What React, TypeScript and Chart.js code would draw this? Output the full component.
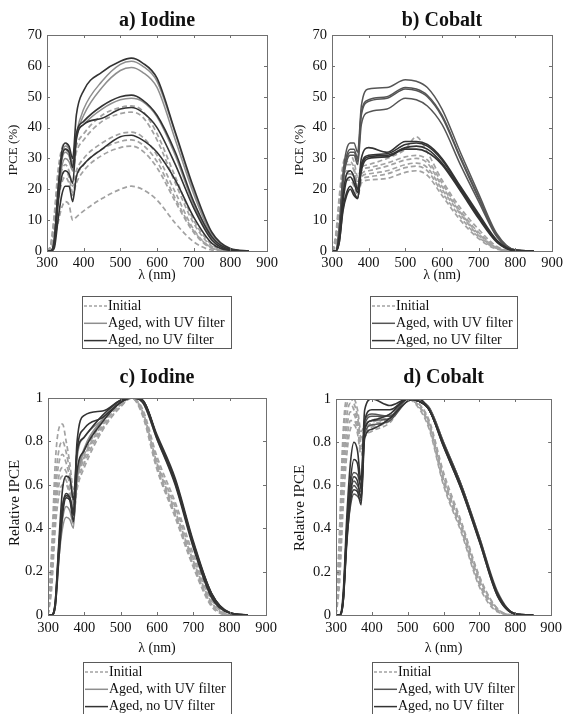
import React, { useEffect, useRef } from "react";
import { Chart, registerables } from "chart.js";
Chart.register(...registerables);

// Wavelength grid (nm)
const WL = [300, 310, 320, 330, 340, 350, 360, 370, 380, 400, 450, 500, 530, 560, 600, 650, 700, 750, 800, 850];
const X_TICKS = [300, 400, 500, 600, 700, 800, 900];

// ---- a) Iodine, IPCE (%) ----
const A_INITIAL = [
  [0, 2, 12, 26, 33, 35, 33, 28, 34, 38, 44, 46.5, 47, 45.5, 38, 24, 10, 2, 0, 0],
  [0, 2, 11, 24, 31, 33, 31, 26, 32, 36, 42, 44.5, 45, 43.5, 36, 22, 9, 1.5, 0, 0],
  [0, 1, 9, 20, 26, 28, 26, 21, 26, 30, 35, 38, 38.5, 37, 31, 19, 7, 1, 0, 0],
  [0, 1, 8, 18, 24, 26, 24, 19, 24, 28, 33, 35.5, 36, 34.5, 29, 17, 6.5, 1, 0, 0],
  [0, 1, 7, 16, 22, 24, 22, 18, 22, 26, 31, 33.5, 34, 32.5, 27, 16, 6, 0.8, 0, 0],
  [0, 0, 4, 9, 14, 16, 15, 10, 11, 13, 17, 20, 21, 20, 16.5, 9, 3, 0.3, 0, 0],
];
const A_UV = [
  [0, 0, 3, 18, 30, 34, 33, 29, 38, 46, 55, 60.5, 61.5, 60, 55, 38, 19.5, 5.5, 0.6, 0],
  [0, 0, 3, 17, 29, 32, 31, 28, 37, 44, 53, 58.5, 59.5, 58, 53, 36, 18.5, 5, 0.5, 0],
  [0, 0, 2, 16, 27, 30, 29, 26, 37, 41, 46, 49, 49.5, 48.5, 43.5, 31, 15, 4, 0.4, 0],
];
const A_NOUV = [
  [0, 0, 4, 20, 32, 35, 34, 30, 44, 52, 58, 61.5, 62.5, 61, 56, 38.5, 20.5, 6, 0.8, 0],
  [0, 0, 3, 18, 30, 33, 32, 27, 38, 42, 47, 50, 50.5, 49, 44, 32, 16, 4.5, 0.5, 0],
  [0, 0, 2, 15, 24, 26, 25, 22, 36, 41, 43, 46, 46.5, 45, 40, 28, 14, 3.5, 0.3, 0],
  [0, 0, 1, 10, 18, 21, 21, 16, 24, 28, 33, 37, 37.5, 36, 32, 23, 11, 2.5, 0.2, 0],
];

// ---- b) Cobalt, IPCE (%) ----
const B_INITIAL = [
  [0, 5, 18, 28, 31, 31, 29, 24, 27, 28, 30, 33, 37, 32, 23, 14, 7, 1.5, 0, 0],
  [0, 4, 16, 26, 29, 29, 27, 22, 26, 27, 28.5, 30.5, 31, 29.5, 22, 13, 6, 1.2, 0, 0],
  [0, 4, 15, 25, 28, 28, 26, 21, 25, 26, 27.5, 29.5, 30, 28.5, 21, 12.5, 5.5, 1, 0, 0],
  [0, 3, 14, 23, 26, 26, 24, 20, 24, 25, 26, 28, 28.5, 27, 20, 12, 5, 1, 0, 0],
  [0, 3, 13, 22, 25, 25, 23, 19, 23, 24, 25, 27, 27.5, 26, 19, 11, 4.5, 0.8, 0, 0],
  [0, 2, 12, 20, 23, 23, 21, 18, 22, 23, 23.5, 25.5, 26, 24.5, 18, 10, 4, 0.6, 0, 0],
];
const B_UV = [
  [0, 0, 8, 25, 33, 35, 35, 32, 47, 52.5, 53, 55.5, 55, 53, 46, 32, 18.5, 5.5, 0.3, 0],
  [0, 0, 7, 24, 31, 33, 33, 30, 45, 49, 50, 53, 52.5, 50.5, 44, 30.5, 17.5, 5, 0.3, 0],
  [0, 0, 7, 23, 30, 32, 32, 29, 44, 48.5, 49.5, 52.5, 52, 50, 43.5, 30, 17, 4.8, 0.3, 0],
  [0, 0, 6, 22, 29, 31, 31, 28, 41, 45, 46, 49.5, 49, 47, 41, 28, 16, 4.5, 0.2, 0],
];
const B_NOUV = [
  [0, 0, 5, 18, 25, 26, 24, 20, 30, 33.5, 32, 35.5, 35.5, 34.5, 30, 21, 12, 3.5, 0.2, 0],
  [0, 0, 4, 16, 23, 24, 22, 19, 28, 31, 31.5, 34.5, 35, 34, 29.5, 20.5, 11.5, 3.2, 0.2, 0],
  [0, 0, 3, 14, 19, 21, 19, 17, 27, 30.5, 31, 33.5, 34, 33, 28.5, 20, 11, 3, 0.1, 0],
  [0, 0, 3, 13, 18, 20, 18, 17, 26, 30, 30.5, 33, 33, 32, 28, 19.5, 10.5, 2.8, 0.1, 0],
];

// ---- c) Iodine, relative IPCE ----
const C_INITIAL = [
  [0, 0.3, 0.7, 0.86, 0.88, 0.8, 0.7, 0.58, 0.66, 0.76, 0.9, 0.98, 1, 0.95, 0.73, 0.52, 0.28, 0.08, 0, 0],
  [0, 0.25, 0.6, 0.76, 0.8, 0.75, 0.66, 0.55, 0.64, 0.74, 0.89, 0.98, 1, 0.94, 0.71, 0.5, 0.26, 0.07, 0, 0],
  [0, 0.2, 0.55, 0.7, 0.74, 0.7, 0.63, 0.52, 0.63, 0.73, 0.88, 0.97, 1, 0.94, 0.7, 0.48, 0.25, 0.06, 0, 0],
  [0, 0.18, 0.5, 0.64, 0.68, 0.66, 0.6, 0.5, 0.62, 0.72, 0.87, 0.97, 1, 0.93, 0.69, 0.47, 0.24, 0.05, 0, 0],
  [0, 0.15, 0.45, 0.6, 0.64, 0.62, 0.57, 0.48, 0.6, 0.7, 0.86, 0.96, 1, 0.93, 0.68, 0.46, 0.23, 0.05, 0, 0],
  [0, 0.12, 0.4, 0.55, 0.6, 0.6, 0.55, 0.46, 0.58, 0.68, 0.85, 0.96, 1, 0.92, 0.67, 0.45, 0.22, 0.04, 0, 0],
];
const C_UV = [
  [0, 0, 0.05, 0.3, 0.48, 0.54, 0.53, 0.46, 0.64, 0.77, 0.9, 0.99, 1, 0.99, 0.82, 0.62, 0.33, 0.1, 0.01, 0],
  [0, 0, 0.04, 0.28, 0.44, 0.5, 0.48, 0.42, 0.62, 0.76, 0.9, 0.99, 1, 0.99, 0.82, 0.62, 0.33, 0.09, 0.01, 0],
  [0, 0, 0.04, 0.26, 0.4, 0.45, 0.44, 0.4, 0.72, 0.82, 0.9, 0.98, 1, 0.98, 0.81, 0.61, 0.32, 0.09, 0.01, 0],
];
const C_NOUV = [
  [0, 0, 0.06, 0.32, 0.5, 0.56, 0.54, 0.48, 0.8, 0.92, 0.94, 0.99, 1, 0.99, 0.83, 0.63, 0.34, 0.1, 0.012, 0],
  [0, 0, 0.06, 0.34, 0.58, 0.64, 0.63, 0.53, 0.75, 0.82, 0.92, 0.99, 1, 0.99, 0.82, 0.62, 0.33, 0.1, 0.01, 0],
  [0, 0, 0.05, 0.3, 0.5, 0.55, 0.54, 0.46, 0.76, 0.86, 0.91, 0.98, 1, 0.99, 0.82, 0.61, 0.32, 0.09, 0.01, 0],
  [0, 0, 0.04, 0.26, 0.46, 0.54, 0.53, 0.43, 0.66, 0.76, 0.89, 0.98, 1, 0.98, 0.81, 0.6, 0.31, 0.08, 0.008, 0],
];

// ---- d) Cobalt, relative IPCE ----
const D_INITIAL = [
  [0, 0.4, 0.85, 1, 1, 1, 0.95, 0.85, 0.88, 0.9, 0.93, 1, 0.98, 0.9, 0.66, 0.43, 0.18, 0.03, 0, 0],
  [0, 0.35, 0.8, 0.97, 1, 0.98, 0.92, 0.82, 0.86, 0.89, 0.92, 1, 0.98, 0.89, 0.64, 0.42, 0.17, 0.03, 0, 0],
  [0, 0.3, 0.72, 0.92, 0.98, 0.95, 0.9, 0.8, 0.85, 0.88, 0.91, 1, 0.97, 0.88, 0.63, 0.41, 0.16, 0.025, 0, 0],
  [0, 0.25, 0.65, 0.86, 0.94, 0.93, 0.88, 0.78, 0.84, 0.87, 0.9, 1, 0.97, 0.88, 0.62, 0.4, 0.15, 0.02, 0, 0],
  [0, 0.2, 0.58, 0.8, 0.9, 0.9, 0.86, 0.76, 0.83, 0.86, 0.9, 1, 0.97, 0.87, 0.61, 0.39, 0.14, 0.02, 0, 0],
  [0, 0.15, 0.5, 0.74, 0.86, 0.88, 0.84, 0.74, 0.82, 0.85, 0.89, 1, 0.96, 0.86, 0.6, 0.38, 0.13, 0.015, 0, 0],
];
const D_UV = [
  [0, 0, 0.08, 0.4, 0.6, 0.66, 0.65, 0.6, 0.9, 0.93, 0.92, 1, 0.99, 0.96, 0.8, 0.6, 0.36, 0.11, 0.006, 0],
  [0, 0, 0.07, 0.38, 0.56, 0.62, 0.6, 0.57, 0.88, 0.92, 0.92, 1, 0.99, 0.96, 0.8, 0.6, 0.36, 0.1, 0.006, 0],
  [0, 0, 0.06, 0.35, 0.54, 0.6, 0.58, 0.55, 0.86, 0.9, 0.91, 1, 0.99, 0.95, 0.79, 0.6, 0.35, 0.1, 0.006, 0],
  [0, 0, 0.06, 0.34, 0.5, 0.56, 0.55, 0.53, 0.84, 0.88, 0.9, 0.99, 1, 0.95, 0.79, 0.59, 0.35, 0.1, 0.006, 0],
];
const D_NOUV = [
  [0, 0, 0.1, 0.45, 0.7, 0.8, 0.76, 0.62, 0.95, 1, 0.97, 1, 0.99, 0.95, 0.79, 0.59, 0.35, 0.1, 0.005, 0],
  [0, 0, 0.08, 0.4, 0.62, 0.72, 0.7, 0.58, 0.9, 0.95, 0.95, 1, 0.99, 0.95, 0.79, 0.59, 0.35, 0.1, 0.005, 0],
  [0, 0, 0.07, 0.36, 0.56, 0.64, 0.62, 0.54, 0.86, 0.9, 0.93, 1, 0.99, 0.95, 0.78, 0.58, 0.34, 0.09, 0.005, 0],
  [0, 0, 0.06, 0.33, 0.52, 0.58, 0.57, 0.51, 0.82, 0.86, 0.91, 0.99, 1, 0.95, 0.78, 0.58, 0.34, 0.09, 0.005, 0],
];

const LEGEND_LABELS = ["Initial", "Aged, with UV filter", "Aged, no UV filter"];
const SERIF = '"Liberation Serif", "Times New Roman", serif';
const INIT_COLOR = "#a2a2a2";
const NOUV_COLOR = "#333333";
const TEXT_COLOR = "#111111";

type PanelCfg = {
  left: number;
  top: number;
  title: string;
  yLabel: string;
  yLabelSize: number;
  yMax: number;
  yStep: number;
  initial: number[][];
  uv: number[][];
  noUv: number[][];
  uvColor: string;
  area: { l: number; t: number; r: number; b: number };
  xPad: number;
  titleY: number;
  xLabelY: number;
  yLabelX: number;
  yLabelY: number;
  legend: { x: number; y: number; w: number; h: number };
};

const W = 283;
const H = 357;

const PANELS: PanelCfg[] = [
  {
    left: 0, top: 0, title: "a) Iodine", yLabel: "IPCE (%)", yLabelSize: 13, yMax: 70, yStep: 10,
    initial: A_INITIAL, uv: A_UV, noUv: A_NOUV, uvColor: "#8e8e8e",
    area: { l: 47, t: 35, r: 267, b: 251 }, xPad: 3, titleY: 21, xLabelY: 275, yLabelX: 14, yLabelY: 150,
    legend: { x: 82, y: 296, w: 149, h: 52 },
  },
  {
    left: 283, top: 0, title: "b) Cobalt", yLabel: "IPCE (%)", yLabelSize: 13, yMax: 70, yStep: 10,
    initial: B_INITIAL, uv: B_UV, noUv: B_NOUV, uvColor: "#555555",
    area: { l: 49, t: 35, r: 269, b: 251 }, xPad: 3, titleY: 21, xLabelY: 275, yLabelX: 17, yLabelY: 150,
    legend: { x: 87, y: 296, w: 147, h: 52 },
  },
  {
    left: 0, top: 357, title: "c) Iodine", yLabel: "Relative IPCE", yLabelSize: 15, yMax: 1, yStep: 0.2,
    initial: C_INITIAL, uv: C_UV, noUv: C_NOUV, uvColor: "#8e8e8e",
    area: { l: 48, t: 41, r: 266, b: 258 }, xPad: 4, titleY: 21, xLabelY: 291, yLabelX: 15, yLabelY: 146,
    legend: { x: 83, y: 305, w: 148, h: 54 },
  },
  {
    left: 283, top: 357, title: "d) Cobalt", yLabel: "Relative IPCE", yLabelSize: 15, yMax: 1, yStep: 0.2,
    initial: D_INITIAL, uv: D_UV, noUv: D_NOUV, uvColor: "#555555",
    area: { l: 53, t: 42, r: 269, b: 258 }, xPad: 4, titleY: 21, xLabelY: 291, yLabelX: 17, yLabelY: 151,
    legend: { x: 89, y: 305, w: 146, h: 54 },
  },
];

function buildDatasets(cfg: PanelCfg) {
  const out: any[] = [];
  const groups = [
    { rows: cfg.initial, color: INIT_COLOR, dash: [5, 3], width: 1.7, order: 2, label: LEGEND_LABELS[0] },
    { rows: cfg.uv, color: cfg.uvColor, dash: [], width: 1.5, order: 1, label: LEGEND_LABELS[1] },
    { rows: cfg.noUv, color: NOUV_COLOR, dash: [], width: 1.6, order: 0, label: LEGEND_LABELS[2] },
  ];
  groups.forEach((g) =>
    g.rows.forEach((row, k) =>
      out.push({
        label: `${g.label} ${k + 1}`,
        data: row.map((v, i) => ({ x: WL[i], y: v })),
        borderColor: g.color,
        borderDash: g.dash,
        borderWidth: g.width,
        pointRadius: 0,
        fill: false,
        cubicInterpolationMode: "monotone",
        order: g.order,
      })
    )
  );
  return out;
}

const decorPlugin = {
  id: "decor",
  afterDraw(chart: any, _args: any, opts: any) {
    const { ctx, chartArea: a, scales } = chart;
    ctx.save();
    // box
    ctx.strokeStyle = "#707070";
    ctx.lineWidth = 1;
    ctx.strokeRect(Math.round(a.left) + 0.5, Math.round(a.top) + 0.5, Math.round(a.right - a.left), Math.round(a.bottom - a.top));
    // inward ticks
    const tl = 3;
    ctx.beginPath();
    scales.x.ticks.forEach((t: any) => {
      const px = Math.round(scales.x.getPixelForValue(t.value)) + 0.5;
      ctx.moveTo(px, a.bottom);
      ctx.lineTo(px, a.bottom - tl);
      ctx.moveTo(px, a.top);
      ctx.lineTo(px, a.top + tl);
    });
    scales.y.ticks.forEach((t: any) => {
      const py = Math.round(scales.y.getPixelForValue(t.value)) + 0.5;
      ctx.moveTo(a.left, py);
      ctx.lineTo(a.left + tl, py);
      ctx.moveTo(a.right, py);
      ctx.lineTo(a.right - tl, py);
    });
    ctx.stroke();

    ctx.fillStyle = TEXT_COLOR;
    // title
    ctx.font = `bold 20px ${SERIF}`;
    ctx.textAlign = "center";
    ctx.textBaseline = "middle";
    ctx.fillText(opts.title, (a.left + a.right) / 2, opts.titleY);
    // x label
    ctx.font = `14px ${SERIF}`;
    ctx.fillText("\u03bb (nm)", (a.left + a.right) / 2, opts.xLabelY);
    // y label
    ctx.save();
    ctx.translate(opts.yLabelX, opts.yLabelY);
    ctx.rotate(-Math.PI / 2);
    ctx.font = `${opts.yLabelSize}px ${SERIF}`;
    ctx.fillText(opts.yLabel, 0, 0);
    ctx.restore();

    // legend
    const L = opts.legend;
    ctx.fillStyle = "#ffffff";
    ctx.fillRect(L.x, L.y, L.w, L.h);
    ctx.strokeStyle = "#5a5a5a";
    ctx.lineWidth = 1;
    ctx.strokeRect(L.x + 0.5, L.y + 0.5, L.w, L.h);
    const rows = [
      { label: LEGEND_LABELS[0], color: INIT_COLOR, dash: [3, 2] },
      { label: LEGEND_LABELS[1], color: opts.uvColor, dash: [] },
      { label: LEGEND_LABELS[2], color: NOUV_COLOR, dash: [] },
    ];
    ctx.font = `14px ${SERIF}`;
    ctx.textAlign = "left";
    rows.forEach((r, i) => {
      const y = L.y + 10 + i * 17.3;
      ctx.beginPath();
      ctx.setLineDash(r.dash);
      ctx.strokeStyle = r.color;
      ctx.lineWidth = 1.5;
      ctx.moveTo(L.x + 2, y);
      ctx.lineTo(L.x + 25, y);
      ctx.stroke();
      ctx.setLineDash([]);
      ctx.fillStyle = TEXT_COLOR;
      ctx.fillText(r.label, L.x + 26, y);
    });
    ctx.restore();
  },
};

function Panel({ cfg }: { cfg: PanelCfg }) {
  const ref = useRef<HTMLCanvasElement>(null);
  useEffect(() => {
    const tickFont = { family: SERIF, size: 14.5 };
    const chart = new Chart(ref.current as HTMLCanvasElement, {
      type: "line",
      data: { datasets: buildDatasets(cfg) },
      options: {
        animation: false,
        responsive: false,
        devicePixelRatio: 1,
        layout: { padding: { left: 0, top: cfg.area.t, right: W - cfg.area.r, bottom: 0 } },
        plugins: {
          legend: { display: false },
          tooltip: { enabled: false },
          title: { display: false },
          decor: {
            title: cfg.title,
            titleY: cfg.titleY,
            xLabelY: cfg.xLabelY,
            yLabel: cfg.yLabel,
            yLabelSize: cfg.yLabelSize,
            yLabelX: cfg.yLabelX,
            yLabelY: cfg.yLabelY,
            legend: cfg.legend,
            uvColor: cfg.uvColor,
          },
        } as any,
        scales: {
          x: {
            type: "linear",
            min: X_TICKS[0],
            max: X_TICKS[X_TICKS.length - 1],
            ticks: { stepSize: 100, padding: cfg.xPad, font: tickFont, color: TEXT_COLOR, autoSkip: false, maxRotation: 0 },
            grid: { display: false, drawTicks: false },
            border: { display: false },
            afterFit: (s: any) => {
              s.height = H - cfg.area.b;
            },
          },
          y: {
            type: "linear",
            min: 0,
            max: cfg.yMax,
            ticks: {
              stepSize: cfg.yStep,
              padding: 5,
              font: tickFont,
              color: TEXT_COLOR,
              callback: (v: any) => String(Math.round(Number(v) * 10) / 10),
            },
            grid: { display: false, drawTicks: false },
            border: { display: false },
            afterFit: (s: any) => {
              s.width = cfg.area.l;
            },
          },
        },
      } as any,
      plugins: [decorPlugin],
    });
    return () => chart.destroy();
  }, []);
  return (
    <div style={{ position: "absolute", left: cfg.left, top: cfg.top, width: W, height: H }}>
      <canvas ref={ref} width={W} height={H} style={{ width: W, height: H, display: "block" }} />
    </div>
  );
}

export default function App() {
  return (
    <div style={{ position: "absolute", left: 0, top: 0, width: 566, height: 714, background: "#fff", overflow: "hidden" }}>
      {PANELS.map((p) => (
        <Panel key={p.title} cfg={p} />
      ))}
    </div>
  );
}
